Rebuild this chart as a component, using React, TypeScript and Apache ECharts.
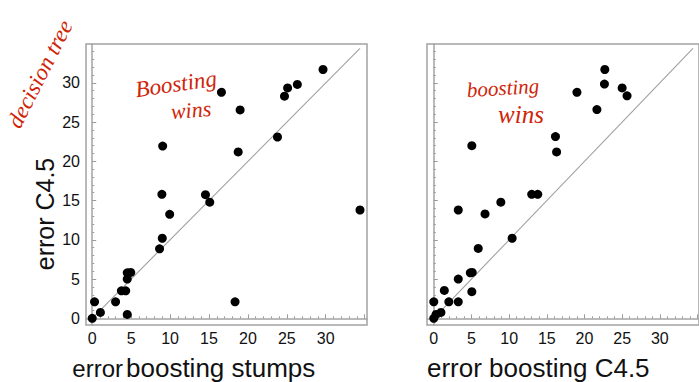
import React, { useEffect, useRef } from "react";
import * as echarts from "echarts";

// Left panel: error of boosting stumps (x) vs error of C4.5 (y)
const stumpsErr = [0, 0.3, 1.05, 3.0, 3.75, 4.3, 4.5, 4.5, 4.5, 4.95, 8.65, 9.0, 8.95, 9.05, 9.95, 14.55, 15.1, 16.6, 18.35, 18.75, 19.0, 23.8, 24.7, 25.1, 26.35, 29.65, 34.4];
const c45ErrLeft = [0, 2.1, 0.75, 2.1, 3.5, 3.5, 0.5, 5.0, 5.8, 5.85, 8.85, 10.2, 15.8, 21.95, 13.25, 15.75, 14.8, 28.8, 2.1, 21.2, 26.55, 23.1, 28.3, 29.35, 29.8, 31.7, 13.8];

// Right panel: error of boosting C4.5 (x) vs error of C4.5 (y)
const boostC45Err = [0, 0.3, 0.95, 0, 1.4, 2.0, 3.25, 3.25, 4.85, 5.1, 5.05, 5.9, 3.25, 6.8, 8.9, 10.4, 13.0, 13.8, 5.05, 16.15, 16.3, 19.0, 21.65, 22.65, 22.7, 25.0, 25.65];
const c45ErrRight = [0, 0.5, 0.75, 2.1, 3.55, 2.1, 2.1, 5.0, 5.8, 5.85, 3.4, 8.9, 13.8, 13.3, 14.8, 10.2, 15.8, 15.8, 22.0, 23.15, 21.2, 28.8, 26.6, 29.85, 31.7, 29.35, 28.35];

// y = x reference line extent
const identityLine = [0, 34.4];

// ticks
const majorTicks = [0, 5, 10, 15, 20, 25, 30];
const majorTickMarks = [0, 5, 10, 15, 20, 25, 30, 35];
const minorTicks = [0, 1, 2, 3, 4, 5, 6, 7, 8, 9, 10, 11, 12, 13, 14, 15, 16, 17, 18, 19, 20, 21, 22, 23, 24, 25, 26, 27, 28, 29, 30, 31, 32, 33, 34, 35];

const FRAME = "#a3a3a3";
const TICK = "#9a9a9a";
const RED = "#cf2408";
const FONT = "Liberation Sans";
const HAND = "Liberation Serif";

function axisPair(kind: "x" | "y", gridIndex: number, min: number, max: number, labels: boolean) {
  const position = kind === "x" ? "bottom" : "left";
  const base = {
    type: "value",
    gridIndex,
    min,
    max,
    position,
    splitLine: { show: false },
  };
  return [
    {
      ...base,
      axisLine: { show: true, lineStyle: { color: FRAME, width: 1.5 } },
      axisTick: { show: true, inside: true, length: 2, customValues: minorTicks, lineStyle: { color: TICK, width: 1 } },
      axisLabel: {
        show: labels,
        customValues: majorTicks,
        margin: kind === "x" ? 5 : 6,
        fontSize: 16,
        color: "#111111",
        fontFamily: FONT,
      },
    },
    {
      ...base,
      axisLine: { show: false },
      axisTick: { show: true, inside: true, length: 4, customValues: majorTickMarks, lineStyle: { color: TICK, width: 1 } },
      axisLabel: { show: false },
    },
  ];
}

export default function App() {
  const ref = useRef<HTMLDivElement>(null);
  useEffect(() => {
    if (!ref.current) return;
    const chart = echarts.init(ref.current, null, { renderer: "svg" });
    const leftPts = stumpsErr.map((x, i) => [x, c45ErrLeft[i]]);
    const rightPts = boostC45Err.map((x, i) => [x, c45ErrRight[i]]);
    const diag = identityLine.map((v) => [v, v]);

    const xAxes = [
      ...axisPair("x", 0, -0.8, 35.3, true),
      ...axisPair("x", 1, -0.9, 35.2, true),
    ];
    const yAxes = [
      ...axisPair("y", 0, -0.85, 34.95, true),
      ...axisPair("y", 1, -0.85, 34.95, false),
    ];

    chart.setOption({
      animation: false,
      backgroundColor: "#ffffff",
      grid: [
        { left: 86, top: 44, width: 281, height: 281, show: true, borderColor: FRAME, borderWidth: 1.5, backgroundColor: "transparent" },
        { left: 427, top: 44, width: 284, height: 281, show: true, borderColor: FRAME, borderWidth: 1.5, backgroundColor: "transparent" },
      ],
      xAxis: xAxes,
      yAxis: yAxes,
      series: [
        {
          type: "line",
          xAxisIndex: 0,
          yAxisIndex: 0,
          data: diag,
          symbol: "none",
          silent: true,
          lineStyle: { color: "#a0a0a0", width: 1.1 },
          z: 1,
        },
        {
          type: "scatter",
          xAxisIndex: 0,
          yAxisIndex: 0,
          data: leftPts,
          symbolSize: 9,
          itemStyle: { color: "#000000", opacity: 1 },
          z: 3,
        },
        {
          type: "line",
          xAxisIndex: 2,
          yAxisIndex: 2,
          data: diag,
          symbol: "none",
          silent: true,
          lineStyle: { color: "#a0a0a0", width: 1.1 },
          z: 1,
        },
        {
          type: "scatter",
          xAxisIndex: 2,
          yAxisIndex: 2,
          data: rightPts,
          symbolSize: 9,
          itemStyle: { color: "#000000", opacity: 1 },
          z: 3,
        },
      ],
      graphic: [
        {
          type: "text",
          x: 45,
          y: 214,
          rotation: Math.PI / 2,
          style: { text: "error C4.5", fontSize: 25, fontFamily: FONT, fill: "#111", align: "center", verticalAlign: "middle" },
        },
        {
          type: "text",
          x: 123,
          y: 368,
          style: { text: "error", fontSize: 24, fontFamily: FONT, fill: "#111", align: "right", verticalAlign: "middle" },
        },
        {
          type: "text",
          x: 126,
          y: 368,
          style: { text: "boosting stumps", fontSize: 26, fontFamily: FONT, fill: "#111", align: "left", verticalAlign: "middle" },
        },
        {
          type: "text",
          x: 427,
          y: 368,
          style: { text: "error boosting C4.5", fontSize: 26, fontFamily: FONT, fill: "#111", align: "left", verticalAlign: "middle" },
        },
        {
          type: "text",
          x: 40,
          y: 74,
          rotation: 1.1,
          style: { text: "decision tree", fontSize: 23, fontStyle: "italic", fontFamily: HAND, fill: RED, align: "center", verticalAlign: "middle" },
        },
        {
          type: "text",
          x: 176,
          y: 84,
          rotation: 0.14,
          style: { text: "Boosting", fontSize: 23, fontStyle: "italic", fontFamily: HAND, fill: RED, align: "center", verticalAlign: "middle" },
        },
        {
          type: "text",
          x: 191,
          y: 110,
          rotation: 0.08,
          style: { text: "wins", fontSize: 22, fontStyle: "italic", fontFamily: HAND, fill: RED, align: "center", verticalAlign: "middle" },
        },
        {
          type: "text",
          x: 503,
          y: 88,
          rotation: 0.06,
          style: { text: "boosting", fontSize: 21, fontStyle: "italic", fontFamily: HAND, fill: RED, align: "center", verticalAlign: "middle" },
        },
        {
          type: "text",
          x: 521,
          y: 114,
          style: { text: "wins", fontSize: 25, fontStyle: "italic", fontFamily: HAND, fill: RED, align: "center", verticalAlign: "middle" },
        },
      ],
    });
    return () => chart.dispose();
  }, []);
  return (
    <div
      ref={ref}
      style={{ position: "absolute", left: 0, top: 0, width: 699, height: 382, overflow: "hidden", background: "#fff" }}
    />
  );
}
